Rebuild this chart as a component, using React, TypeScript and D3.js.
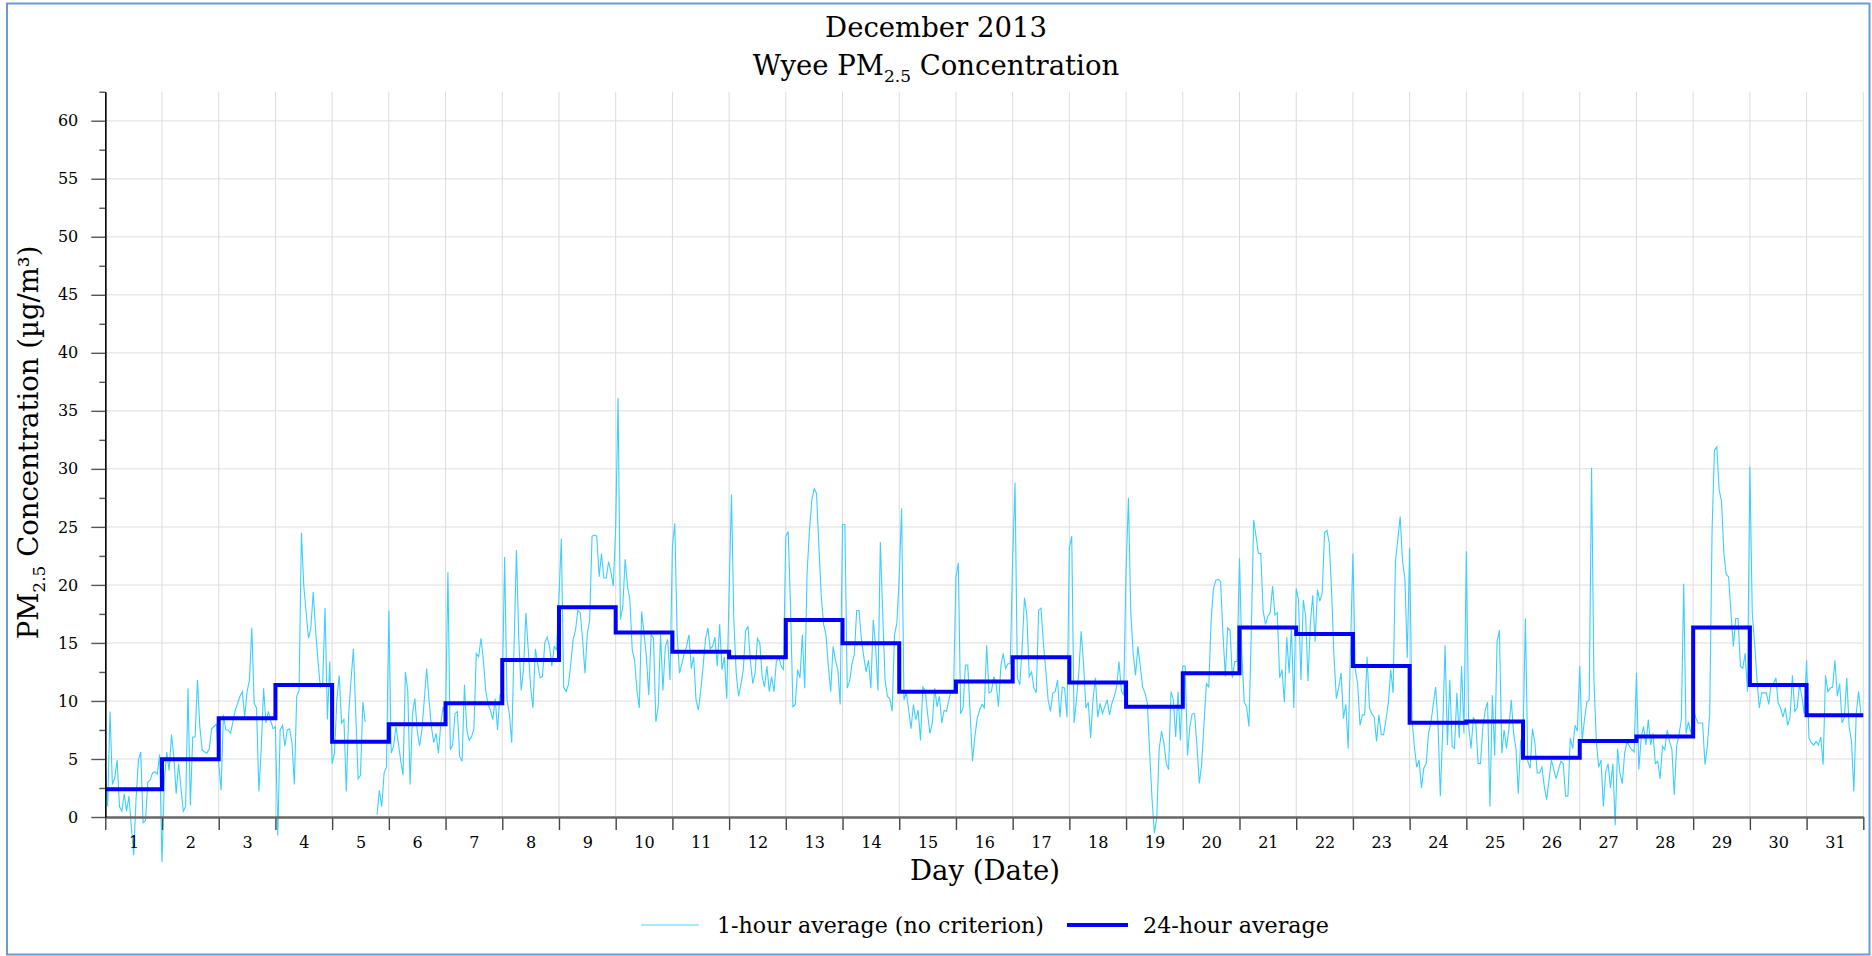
import {
  axisBottom,
  axisLeft,
  curveStepAfter,
  line,
  range,
  scaleLinear,
  select,
} from "d3";
import { useEffect, useRef } from "react";

// 1-hour averages, one array per day of December 2013 (null = missing)
const d01 = [4.6, 0.9, 9.1, 2.8, 3.4, 4.9, 0.9, 0.5, 2.0, 0.5, 1.8, -0.8, -3.3, 1.5, 4.9, 5.6, -0.5, -0.3, 3.0, 3.2, 3.8, 3.9, 3.7, 5.4];
const d02 = [-3.9, 3.2, 5.6, 4.0, 7.1, 5.2, 2.0, 4.6, 2.6, 0.5, 0.9, 11.1, 1.0, 6.9, 6.9, 11.8, 7.8, 5.8, 5.6, 5.5, 5.9, 7.6, 7.8, 8.0];
const d03 = [4.6, 2.3, 8.8, 7.5, 7.5, 7.2, 8.2, 9.2, 9.8, 10.4, 10.8, 8.6, 10.8, 11.8, 16.3, 9.8, 9.4, 2.2, 5.9, 11.1, 8.1, 9.1, 8.3, 7.6];
const d04 = [7.8, -1.6, 7.5, 7.9, 6.1, 7.5, 7.6, 6.4, 2.8, 10.4, 10.9, 24.5, 19.9, 17.6, 15.4, 16.3, 19.4, 16.1, 13.5, 11.2, 11.5, 18.0, 8.4, 13.4];
const d05 = [4.6, 5.5, 10.1, 12.2, 8.1, 8.4, 2.2, 8.9, 11.8, 14.5, 8.9, 3.3, 3.6, 9.9, 8.2, null, null, null, null, 0.2, 2.3, 0.9, 3.8, 4.3];
const d06 = [17.8, 5.5, 6.1, 7.8, 6.4, 4.9, 3.6, 12.5, 10.9, 2.8, 8.9, 10.2, 7.5, 6.1, 7.5, 10.1, 12.8, 10.1, 7.8, 6.4, 7.2, 5.5, 8.1, 9.5];
const d07 = [8.5, 21.1, 5.8, 6.2, 8.9, 9.1, 5.2, 4.8, 11.4, 7.5, 6.6, 6.9, 7.6, 14.1, 13.8, 15.4, 13.5, 10.9, 9.7, 9.2, 8.4, 10.2, 7.5, 10.5];
const d08 = [10.8, 22.4, 10.1, 8.9, 6.4, 14.8, 23.0, 15.3, 10.9, 12.7, 17.6, 14.4, 11.2, 9.4, 14.5, 13.2, 12.0, 12.1, 15.0, 15.5, 14.7, 13.0, 14.7, 14.4];
const d09 = [19.0, 24.0, 11.2, 10.8, 11.4, 13.2, 15.3, 16.1, 17.8, 17.6, 15.3, 12.4, 15.8, 17.0, 24.2, 24.3, 24.2, 20.7, 22.7, 20.6, 20.6, 22.0, 21.1, 19.9];
const d10 = [25.0, 36.1, 17.0, 18.1, 22.2, 19.9, 18.7, 14.4, 13.5, 10.9, 9.4, 17.7, 15.8, 13.8, 10.5, 15.7, 15.4, 8.2, 9.5, 15.7, 10.9, 14.7, 15.3, 11.8];
const d11 = [23.3, 25.3, 15.8, 12.4, 13.2, 14.1, 14.7, 15.7, 12.8, 13.8, 10.1, 9.2, 10.9, 13.0, 15.3, 16.3, 14.5, 14.7, 15.5, 13.0, 16.6, 12.7, 13.8, 10.2];
const d12 = [19.3, 27.8, 17.0, 12.4, 10.4, 11.4, 12.7, 16.1, 16.4, 13.5, 11.5, 12.4, 15.4, 15.0, 12.1, 11.2, 13.0, 10.8, 12.1, 10.8, 13.4, 13.8, 13.0, 12.7];
const d13 = [24.2, 24.6, 18.0, 9.5, 9.7, 12.7, 12.0, 15.7, 11.1, 21.0, 24.7, 27.3, 28.3, 27.9, 23.3, 19.0, 16.6, 15.7, 13.0, 10.8, 14.7, 13.5, 12.7, 9.7];
const d14 = [25.2, 25.2, 11.1, 11.7, 13.2, 14.0, 17.8, 17.8, 15.3, 13.8, 12.5, 13.5, 11.1, 17.0, 14.7, 10.9, 23.7, 17.6, 11.8, 10.4, 10.2, 9.1, 15.7, 16.7];
const d15 = [20.7, 26.6, 10.1, 10.7, 9.2, 7.6, 9.7, 8.4, 9.2, 6.6, 11.2, 10.9, 8.9, 7.2, 8.1, 11.1, 9.5, 10.4, 8.1, 9.2, 9.1, 10.1, 10.9, 10.9];
const d16 = [20.7, 21.9, 8.9, 9.4, 13.1, 13.1, 8.9, 4.8, 6.9, 8.5, 9.2, 9.7, 9.4, 14.8, 10.7, 10.8, 12.1, 11.5, 9.5, 13.0, 14.1, 12.8, 13.2, 13.2];
const d17 = [22.2, 28.8, 12.0, 11.4, 14.5, 18.9, 17.4, 12.1, 12.5, 11.1, 10.7, 17.8, 18.0, 15.0, 12.7, 10.1, 9.1, 10.7, 10.8, 11.8, 8.6, 11.2, 11.1, 8.6];
const d18 = [23.2, 24.2, 8.1, 10.1, 12.5, 16.0, 13.2, 9.4, 9.9, 6.8, 10.1, 12.0, 8.6, 9.8, 8.9, 9.5, 10.1, 8.8, 9.8, 10.4, 11.2, 13.4, 10.9, 10.5];
const d19 = [21.3, 27.5, 17.6, 14.1, 12.2, 14.7, 13.0, 11.2, 10.7, 9.8, 5.5, 1.5, -1.4, 0.0, 5.8, 7.4, 6.4, 4.6, 4.1, 10.8, 10.1, 6.9, 10.8, 6.6];
const d20 = [13.0, 13.0, 5.3, 7.8, 8.9, 8.9, 6.1, 2.9, 4.6, 8.1, 11.5, 11.2, 17.0, 19.7, 20.4, 20.5, 20.3, 15.8, 12.1, 16.3, 16.1, 12.0, 13.4, 13.4];
const d21 = [22.3, 14.0, 9.9, 9.5, 7.8, 16.0, 25.6, 24.2, 22.7, 22.7, 17.8, 16.6, 17.3, 17.6, 19.9, 17.4, 17.6, 12.0, 12.7, 9.9, 15.5, 12.4, 16.3, 9.4];
const d22 = [19.7, 18.7, 11.8, 18.7, 17.3, 11.7, 16.7, 19.1, 15.1, 19.6, 18.6, 19.3, 24.5, 24.7, 23.6, 19.3, 13.8, 10.2, 11.2, 12.4, 8.5, 9.7, 5.9, 14.7];
const d23 = [22.7, 12.7, 11.5, 7.9, 8.8, 8.8, 13.8, 9.4, 8.9, 8.6, 6.5, 8.8, 7.1, 7.1, 8.4, 9.8, 12.7, 10.7, 22.0, 23.9, 25.9, 22.0, 20.6, 13.7];
const d24 = [23.2, 8.4, 6.1, 4.3, 4.9, 2.5, 4.2, 4.6, 7.2, 8.1, 9.7, 11.2, 8.1, 1.8, 7.5, 14.8, 6.2, 11.8, 6.1, 5.9, 10.7, 6.8, 13.0, 7.2];
const d25 = [22.9, 7.8, 5.9, 8.6, 8.1, 4.6, 4.6, 7.8, 9.2, 9.9, 0.9, 10.5, 5.3, 15.1, 16.1, 5.5, 7.5, 5.9, 7.6, 10.1, 7.2, 5.9, 2.0, 6.6];
const d26 = [6.8, 17.1, 4.8, 4.2, 7.6, 6.4, 3.8, 3.8, 4.3, 2.6, 1.5, 3.2, 4.9, 4.1, 3.3, 4.1, 4.8, 4.6, 1.8, 1.8, 6.8, 5.9, 7.9, 7.4];
const d27 = [13.0, 6.6, 8.4, 9.9, 10.1, 30.1, 11.8, 6.6, 4.3, 4.9, 0.9, 3.9, 4.6, 2.5, 4.6, -0.7, 5.9, 3.8, 2.9, 5.5, 6.5, 6.1, 5.8, 5.6];
const d28 = [12.4, 4.1, 6.8, 7.8, 6.2, 8.4, 6.2, 7.2, 4.6, 4.8, 3.3, 6.1, 5.8, 7.5, 6.5, 5.8, 1.9, 6.1, 7.1, 8.4, 20.1, 7.2, 8.2, 7.2];
const d29 = [9.4, 8.6, 8.1, 8.1, 8.1, 4.5, 6.1, 8.9, 24.7, 31.6, 31.9, 28.2, 27.2, 22.7, 20.9, 20.7, 17.6, 14.7, 17.1, 17.1, 13.0, 12.8, 14.1, 10.8];
const d30 = [30.2, 17.6, 15.0, 11.8, 9.4, 10.7, 10.7, 10.7, 9.7, 11.5, 11.5, 12.0, 9.8, 9.4, 8.6, 9.4, 7.9, 8.6, 12.2, 9.1, 9.4, 11.4, 10.4, 8.9];
const d31 = [13.5, 6.8, 6.4, 6.2, 6.5, 6.2, 6.9, 4.5, 12.2, 10.8, 11.1, 11.2, 13.5, 10.4, 11.5, 8.1, 8.6, 12.0, 7.8, 6.5, 2.2, 8.9, 10.8, 8.9];

const hourlyDays: (number | null)[][] = [
  d01, d02, d03, d04, d05, d06, d07, d08, d09, d10, d11, d12, d13, d14, d15, d16,
  d17, d18, d19, d20, d21, d22, d23, d24, d25, d26, d27, d28, d29, d30, d31,
];

// 24-hour averages, one per day
const dailyAvg = [
  2.39, 4.97, 8.5, 11.38, 6.49, 7.99, 9.8, 13.53, 18.07, 15.9, 14.25, 13.76, 16.98, 14.97, 10.8, 11.67,
  13.77, 11.58, 9.51, 12.38, 16.32, 15.78, 13.02, 8.13, 8.22, 5.11, 6.55, 6.93, 16.32, 11.38, 8.76,
];

const dayLabels = [
  "1", "2", "3", "4", "5", "6", "7", "8", "9", "10", "11", "12", "13", "14", "15", "16",
  "17", "18", "19", "20", "21", "22", "23", "24", "25", "26", "27", "28", "29", "30", "31",
];
const yMajor = [0, 5, 10, 15, 20, 25, 30, 35, 40, 45, 50, 55, 60];

const width = 1872;
const height = 956;
const plot = { left: 105.3, right: 1863.3, top: 91.7, bottom: 817 };
const serif = "'DejaVu Serif', serif";

const x = scaleLinear().domain([0, 31]).range([plot.left, plot.right]);
const y = scaleLinear().domain([0, 62.5]).range([plot.bottom, plot.top]);

type Pt = { t: number; v: number | null };

const hourlyPts: Pt[] = hourlyDays.flatMap((day, d) =>
  day.map((v, i) => ({ t: d + i / 24, v }))
);
const dailyPts: Pt[] = [
  ...dailyAvg.map((v, d) => ({ t: d, v })),
  { t: dailyAvg.length, v: dailyAvg[dailyAvg.length - 1] },
];

const hourlyLine = line<Pt>()
  .defined((d) => d.v !== null)
  .x((d) => x(d.t))
  .y((d) => y(d.v as number));

const dailyLine = line<Pt>()
  .curve(curveStepAfter)
  .x((d) => x(d.t))
  .y((d) => y(d.v as number));

const YAxis = () => {
  const ref = useRef<SVGGElement>(null);

  useEffect(() => {
    if (!ref.current) return;
    const g = select(ref.current);
    g.selectAll("*").remove();
    g.append("g").call(
      axisLeft(y)
        .tickValues(range(2.5, 63, 5))
        .tickSize(6)
        .tickSizeOuter(0)
        .tickFormat(() => "")
    );
    g.append("g").call(
      axisLeft(y).tickValues(yMajor).tickSize(14).tickSizeOuter(0).tickPadding(13)
    );
    g.selectAll(".tick line").attr("stroke", "#555").attr("stroke-width", 1.4);
    g.selectAll(".domain").attr("stroke", "#000").attr("stroke-width", 1.2);
    g.selectAll("text")
      .attr("font-family", serif)
      .attr("font-size", 16)
      .attr("fill", "#000");
  }, []);

  return <g ref={ref} transform={`translate(${plot.left},0)`} />;
};

const XAxis = () => {
  const ref = useRef<SVGGElement>(null);

  useEffect(() => {
    if (!ref.current) return;
    const g = select(ref.current);
    g.selectAll("*").remove();
    g.append("g").call(
      axisBottom(x)
        .tickValues(range(0, 32))
        .tickSize(13)
        .tickSizeOuter(0)
        .tickFormat(() => "")
    );
    g.append("g").call(
      axisBottom(x)
        .tickValues(dayLabels.map((_, i) => i + 0.5))
        .tickSize(0)
        .tickSizeOuter(0)
        .tickPadding(20)
        .tickFormat((_, i) => dayLabels[i])
    );
    g.selectAll(".tick line").attr("stroke", "#444").attr("stroke-width", 1.4);
    g.selectAll(".domain").attr("stroke", "#666").attr("stroke-width", 2);
    g.selectAll("text")
      .attr("font-family", serif)
      .attr("font-size", 16)
      .attr("fill", "#000");
  }, []);

  return <g ref={ref} transform={`translate(0,${plot.bottom})`} />;
};

const App = () => {
  return (
    <svg
      width={width}
      height={height}
      style={{ position: "absolute", left: 0, top: 0, background: "#fff" }}
      fontFamily={serif}
    >
      <rect x={0} y={0} width={width} height={height} fill="#fff" />
      <rect
        x={7}
        y={3.5}
        width={1862.5}
        height={951}
        fill="none"
        stroke="#6a9ad4"
        strokeWidth={2}
      />

      {/* grid */}
      {yMajor.slice(1).map((v) => (
        <line
          key={`hy${v}`}
          x1={plot.left}
          x2={plot.right}
          y1={y(v)}
          y2={y(v)}
          stroke="#e9e9e9"
          strokeWidth={1.5}
        />
      ))}
      {range(1, 32).map((d) => (
        <line
          key={`vx${d}`}
          x1={x(d)}
          x2={x(d)}
          y1={plot.top}
          y2={plot.bottom}
          stroke="#dcdcdc"
          strokeWidth={1}
        />
      ))}

      {/* series */}
      <path
        d={hourlyLine(hourlyPts) ?? ""}
        fill="none"
        stroke="#3ccfff"
        strokeWidth={1.1}
      />
      <path
        d={dailyLine(dailyPts) ?? ""}
        fill="none"
        stroke="#0000ff"
        strokeWidth={4}
      />

      <XAxis />
      <YAxis />

      {/* titles */}
      <text x={936} y={37} textAnchor="middle" fontSize={27.5}>
        December 2013
      </text>
      <text x={936} y={75} textAnchor="middle" fontSize={27.5}>
        Wyee PM
        <tspan dy={7} fontSize={17}>
          2.5
        </tspan>
        <tspan dy={-7}> Concentration</tspan>
      </text>
      <text
        transform={`translate(38,${(plot.top + plot.bottom) / 2 - 12}) rotate(-90)`}
        textAnchor="middle"
        fontSize={27.5}
      >
        PM
        <tspan dy={7} fontSize={17}>
          2.5
        </tspan>
        <tspan dy={-7}> Concentration (µg/m³)</tspan>
      </text>
      <text x={985} y={880} textAnchor="middle" fontSize={27.5}>
        Day (Date)
      </text>

      {/* legend */}
      <line x1={641} x2={699} y1={925} y2={925} stroke="#8fdcff" strokeWidth={1.5} />
      <text
        x={717}
        y={933}
        fontSize={22}
        textLength={327}
        lengthAdjust="spacingAndGlyphs"
      >
        1-hour average (no criterion)
      </text>
      <line x1={1067} x2={1128} y1={925} y2={925} stroke="#0000ff" strokeWidth={4} />
      <text
        x={1143}
        y={933}
        fontSize={22}
        textLength={186}
        lengthAdjust="spacingAndGlyphs"
      >
        24-hour average
      </text>
    </svg>
  );
};

export default App;
